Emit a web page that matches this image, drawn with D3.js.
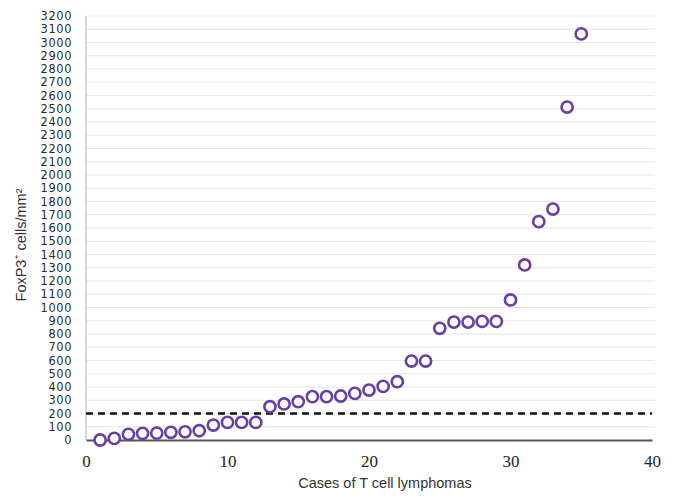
<!DOCTYPE html>
<html><head><meta charset="utf-8">
<script src="https://cdn.jsdelivr.net/npm/d3@7"></script>
<style>body{margin:0;background:#fff}</style>
</head><body>
<svg id="c" width="673" height="496"></svg>
<script>
const cases = d3.range(1, 36);
const foxp3 = [0, 12, 43, 50, 52, 58, 62, 70, 113, 133, 133, 133,
  251, 272, 289, 327, 327, 332, 352, 377, 405, 440, 596, 596,
  843, 890, 890, 895, 895, 1057, 1321, 1648, 1743, 2513, 3065];
const threshold = 200;
const yTicks = d3.range(0, 3201, 100);
const xTicks = [0, 10, 20, 30, 40];

const svg = d3.select("#c");
const x = d3.scaleLinear().domain([0, 40]).range([86, 652]);
const y = d3.scaleLinear().domain([0, 3200]).range([440, 16]);

// gridlines
svg.append("g").selectAll("line").data(yTicks.slice(1)).join("line")
  .attr("x1", 86).attr("x2", 655)
  .attr("y1", d => y(d)).attr("y2", d => y(d))
  .attr("stroke", "#e6e6e6").attr("stroke-width", 1.2);

// y axis line
svg.append("line").attr("x1", 86).attr("x2", 86).attr("y1", y(3200)).attr("y2", y(0))
  .attr("stroke", "#b0b0b0").attr("stroke-width", 1);

// y tick labels
const yAxis = d3.axisLeft(y).tickValues(yTicks).tickFormat(d3.format("d")).tickSize(0).tickPadding(14);
const gy = svg.append("g").attr("transform", "translate(86,0)").call(yAxis);
gy.select(".domain").remove();
gy.selectAll("text").attr("font-family", "DejaVu Sans, Verdana, sans-serif")
  .attr("font-size", "11.4px").attr("letter-spacing", "0.6px").attr("fill", "#2a2a2a");

// x axis
const xAxis = d3.axisBottom(x).tickValues(xTicks).tickSize(0).tickPadding(15);
const gx = svg.append("g").attr("transform", `translate(0,${y(0)})`).call(xAxis);
gx.select(".domain").attr("stroke", "#555").attr("stroke-width", 2);
gx.selectAll("text").attr("font-family", "Liberation Serif, Times New Roman, serif")
  .attr("font-size", "17px").attr("fill", "#222");

// threshold dashed line
svg.append("line").attr("x1", 86).attr("x2", 652)
  .attr("y1", y(threshold)).attr("y2", y(threshold))
  .attr("stroke", "#111").attr("stroke-width", 2.6).attr("stroke-dasharray", "7,5");

// points
svg.append("g").selectAll("circle").data(cases).join("circle")
  .attr("cx", (d) => x(d)).attr("cy", (d, i) => y(foxp3[i]))
  .attr("r", 5.6).attr("fill", "#fff").attr("stroke", "#6a3fa3").attr("stroke-width", 2.6);

// axis titles
svg.append("text").attr("x", 385).attr("y", 488).attr("text-anchor", "middle")
  .attr("font-family", "Liberation Sans, Arial, sans-serif").attr("font-size", "14.5px").attr("fill", "#333")
  .text("Cases of T cell lymphomas");

const yt = svg.append("text").attr("transform", "translate(26,245) rotate(-90)")
  .attr("text-anchor", "middle")
  .attr("font-family", "Liberation Sans, Arial, sans-serif").attr("font-size", "14.5px").attr("fill", "#333");
yt.append("tspan").text("FoxP3");
yt.append("tspan").attr("dy", -6).attr("font-size", "8.5px").text("+");
yt.append("tspan").attr("dy", 6).text(" cells/mm²");
</script>
</body></html>
